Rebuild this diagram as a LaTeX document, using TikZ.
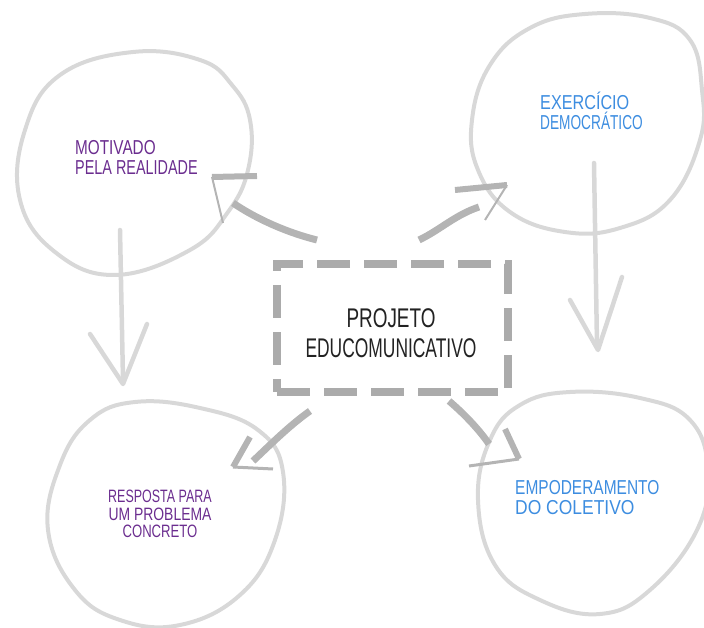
\documentclass[tikz,border=0pt]{standalone}
\usepackage{fontspec}
\setmainfont{Liberation Sans}
\usetikzlibrary{calc}
\definecolor{blobgray}{HTML}{D8D8D8}
\definecolor{arrowgray}{HTML}{B4B4B4}
\definecolor{boxgray}{HTML}{ABABAB}
\definecolor{hwpurple}{HTML}{6B2D8F}
\definecolor{hwblue}{HTML}{3D8DE0}
\definecolor{hwblack}{HTML}{222222}
\newcommand{\hwl}[2]{\scalebox{#1}[1.12]{#2}}
\newcommand{\hwc}[2]{\scalebox{#1}[1]{#2}}
\begin{document}
\begin{tikzpicture}[x=1pt,y=-1pt,
  blob/.style={draw=blobgray,line width=4pt,line cap=round,line join=round},
  flowline/.style={draw=blobgray,line width=4.5pt,line cap=round,line join=round},
  link/.style={draw=arrowgray,line width=7pt},
  linkarm/.style={draw=arrowgray,line width=6pt},
  thinarm/.style={draw=arrowgray,line width=2pt},
  smalltext/.style={inner sep=0pt,font=\fontsize{18}{20}\selectfont},
  bigtext/.style={inner sep=0pt,align=center,text=hwblack,font=\fontsize{27}{30}\selectfont},
  dashbox/.style={draw=boxgray,line width=8pt,dash pattern=on 33pt off 14pt,
    minimum width=231pt,minimum height=128pt,inner sep=0pt}
]
\useasboundingbox (0,0) rectangle (704,628);

% ---- blobs ----
\draw[blob] plot[smooth cycle,tension=0.7] coordinates
  {(133,52) (200,60) (232,85) (250,120) (248,170) (228,212) (190,250) (115,275) (55,252) (20,200) (25,130) (60,75)};
\draw[blob] plot[smooth cycle,tension=0.7] coordinates
  {(585,14) (650,18) (690,40) (702,90) (700,140) (670,200) (620,228) (565,232) (510,212) (478,170) (472,120) (490,65) (530,28)};
\draw[blob] plot[smooth cycle,tension=0.7] coordinates
  {(135,402) (200,408) (258,430) (283,472) (275,540) (240,595) (180,625) (120,620) (75,590) (48,530) (60,465) (90,420)};
\draw[blob] plot[smooth cycle,tension=0.7] coordinates
  {(570,392) (640,398) (690,420) (708,470) (697,530) (650,590) (600,614) (540,600) (495,565) (478,500) (490,440) (520,405)};

% ---- texts ----
\node[smalltext,text=hwpurple,align=left,anchor=north west] (motivado) at (75,140)
  {\hwl{0.85}{MOTIVADO}\\\hwl{0.80}{PELA REALIDADE}};
\node[smalltext,text=hwblue,align=left,anchor=north west] (exercicio) at (540,92)
  {\hwl{0.9}{EXERC\'ICIO}\\\hwl{0.76}{DEMOCR\'ATICO}};
\node[smalltext,text=hwpurple,align=center,anchor=north,font=\fontsize{16}{17.5}\selectfont] (resposta) at (160,490)
  {\hwl{0.78}{RESPOSTA PARA}\\\hwl{0.87}{UM PROBLEMA}\\\hwl{0.82}{CONCRETO}};
\node[smalltext,text=hwblue,align=left,anchor=north west] (empoderamento) at (515,480)
  {\hwl{0.86}{EMPODERAMENTO}\\\hwl{0.97}{DO COLETIVO}};

\node[dashbox] (box) at (392.5,328) {};
\node[bigtext] (projeto) at (391,333)
  {\hwc{0.70}{PROJETO}\\\hwc{0.645}{EDUCOMUNICATIVO}};

% ---- coordinates of connectors ----
\coordinate (tlS) at (317,240); \coordinate (tlE) at (233,203);
\coordinate (tlTip) at (212,177); \coordinate (tlA) at (257,176); \coordinate (tlB) at (223,223);
\coordinate (trS) at (419,240); \coordinate (trE) at (479,207);
\coordinate (trTip) at (507,185); \coordinate (trA) at (455,190); \coordinate (trB) at (485,220);
\coordinate (blS) at (310,411); \coordinate (blE) at (253,461);
\coordinate (blTip) at (233,467); \coordinate (blA) at (250,437); \coordinate (blB) at (273,469);
\coordinate (brS) at (449,401); \coordinate (brE) at (489,444);
\coordinate (brTip) at (519,459); \coordinate (brA) at (505,429); \coordinate (brB) at (469,466);

\coordinate (lS) at (120,230); \coordinate (lE) at (123,380);
\coordinate (lTip) at (123,384); \coordinate (lA) at (90,334); \coordinate (lB) at (147,324);
\coordinate (rS) at (594,163); \coordinate (rE) at (597,345);
\coordinate (rTip) at (598,350); \coordinate (rA) at (570,300); \coordinate (rB) at (622,277);

% ---- center links ----
\draw[link] (tlS) .. controls (285,232) and (255,218) .. (tlE);
\draw[linkarm] (tlA) -- (tlTip);
\draw[thinarm] (tlTip) -- (tlB);

\draw[link] (trS) .. controls (440,230) and (455,215) .. (trE);
\draw[linkarm] (trA) -- (trTip);
\draw[thinarm] (trTip) -- (trB);

\draw[link] (blS) .. controls (290,425) and (270,445) .. (blE);
\draw[linkarm] (blA) -- (blTip);
\draw[draw=arrowgray,line width=3pt] (blTip) -- (blB);

\draw[link] (brS) .. controls (462,412) and (478,428) .. (brE);
\draw[linkarm] (brA) -- (brTip);
\draw[draw=arrowgray,line width=3pt] (brB) -- (brTip);

% ---- side flows ----
\draw[flowline] (lS) -- (lE);
\draw[flowline] (lA) -- (lTip) -- (lB);
\draw[flowline] (rS) -- (rE);
\draw[flowline] (rA) -- (rTip) -- (rB);
\end{tikzpicture}
\end{document}
